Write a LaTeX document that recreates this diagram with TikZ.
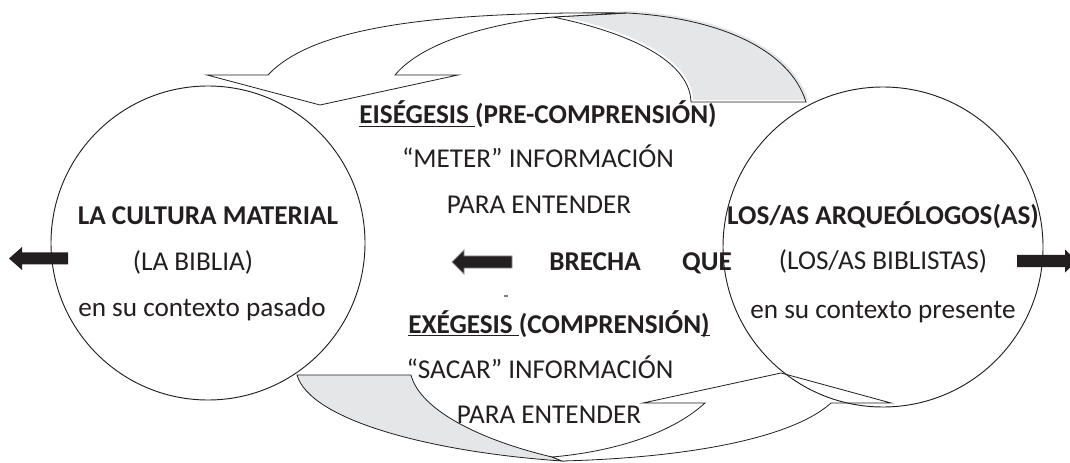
\documentclass[tikz,border=0pt]{standalone}
\usepackage{fontspec}
\setmainfont{Carlito}
\definecolor{ink}{RGB}{35,31,32}
\definecolor{bandgray}{RGB}{229,230,232}
\newcommand{\ulx}[1]{\underline{\smash{#1}}}
\tikzset{
  lbl/.style={font=\fontsize{20.4}{22}\selectfont, text=ink, inner sep=0pt, anchor=base},
  blbl/.style={lbl, font=\fontsize{20.4}{22}\selectfont\bfseries},
  ring/.style={circle, draw=ink, line width=0.7pt, inner sep=0pt},
  band/.style={draw=ink, line width=0.6pt, line join=miter},
  blockarrow/.style={fill=ink, draw=none},
}
\begin{document}
\begin{tikzpicture}[x=0.75pt,y=-0.75pt]
\useasboundingbox (0,0) rectangle (1070,463);
\fill[white] (0,0) rectangle (1070,463);

% top ribbon arrow (right to left)
\fill[bandgray, shift={(2,-2)}] (553,17) .. controls (640,35) and (690,65) .. (691,102) -- (806,102) .. controls (790,50) and (720,18) .. (627,13) -- cycle;
\draw[band] (553,17) .. controls (640,35) and (690,65) .. (691,102) -- (806,102) .. controls (790,50) and (720,18) .. (627,13) -- cycle;
\filldraw[band, fill=white] (627,13) .. controls (420,11) and (310,30) .. (268,75) -- (207,75) -- (320,105) -- (458,75) -- (395,75) .. controls (420,45) and (480,25) .. (553,17) -- cycle;

% bottom ribbon arrow (left to right)
\filldraw[band, fill=bandgray] (297,375) -- (411,375) .. controls (420,410) and (480,440) .. (552,457) -- (562,461) .. controls (430,452) and (310,420) .. (297,375) -- cycle;
\filldraw[band, fill=white] (562,461) .. controls (680,458) and (790,440) .. (831,403) -- (891,403) -- (781,373) -- (643,403) -- (705,403) .. controls (670,435) and (610,452) .. (552,457) -- cycle;

% circles
\node[ring, minimum size=235.5pt] (lc) at (208,243) {};
\node[ring, minimum size=240pt] (rc) at (883,247) {};

% left circle text
\node[blbl] (l1) at (208,224) {LA CULTURA MATERIAL};
\node[lbl] (l2) at (193,270) {(LA BIBLIA)};
\node[lbl] (l3) at (202,316) {en su contexto pasado};

% right circle text
\node[blbl] (r1) at (883,224) {LOS/AS ARQUEÓLOGOS(AS)};
\node[lbl] (r2) at (883,269) {(LOS/AS BIBLISTAS)};
\node[lbl] (r3) at (883,318) {en su contexto presente};

% middle texts
\node[blbl] (m1) at (538,124) {\ulx{EISÉGESIS }(PRE-COMPRENSIÓN)};
\node[lbl] (m2) at (538,168) {“METER” INFORMACIÓN};
\node[lbl] (m3) at (539,214) {PARA ENTENDER};
\node[blbl] (m4) at (595,271) {BRECHA};
\node[blbl] (m5) at (707,271) {QUE};
\node[blbl] (m6) at (559,333) {\ulx{EXÉGESIS }(COMPRENSIÓN\ulx{)}};
\node[lbl] (m7) at (540,378) {“SACAR” INFORMACIÓN};
\node[lbl] (m8) at (549,423) {PARA ENTENDER};

% block arrows
\fill[blockarrow] (68,252.5) -- (22,252.5) -- (22,247) -- (9,258.5) -- (22,270) -- (22,264.5) -- (68,264.5) -- cycle;
\filldraw[blockarrow, draw=ink!50, line width=0.6pt] (512,256) -- (464,256) -- (464,250) -- (452,262) -- (464,274) -- (464,268) -- (512,268) -- cycle;
\fill[blockarrow] (1017,255) -- (1065,255) -- (1065,249.5) -- (1077,261) -- (1065,272.5) -- (1065,267) -- (1017,267) -- cycle;
\draw[gray, line width=1pt] (504,296) -- (508,296);
\end{tikzpicture}
\end{document}
